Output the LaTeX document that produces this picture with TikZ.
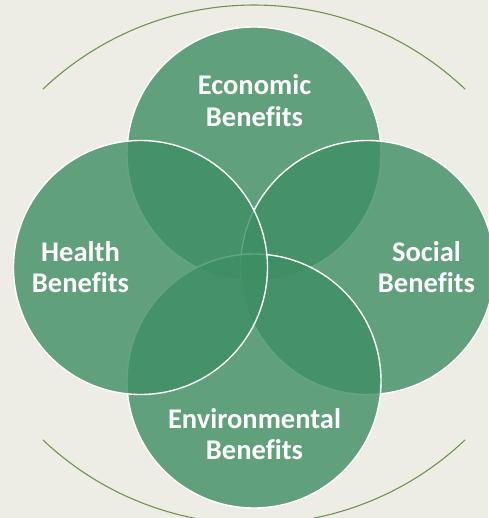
\documentclass[tikz,border=0pt]{standalone}
\usepackage{fontspec}
\setmainfont{Carlito}[Ligatures=NoCommon]

\definecolor{bgbeige}{RGB}{237,236,229}
\definecolor{petal}{RGB}{62,142,100}
\definecolor{arcgreen}{RGB}{112,148,78}

\tikzset{
  petal/.style={draw=white, line width=1.4pt, fill=petal, fill opacity=0.8},
  benefit/.style={anchor=center, inner sep=0pt, align=center, text=white,
    font=\fontsize{28.5}{31.5}\selectfont\bfseries},
  rim/.style={draw=arcgreen, line width=1.1pt}
}

\begin{document}
\begin{tikzpicture}[x=1pt, y=-1pt, line cap=round, line join=round]

  %% ════ 底色 ════
  \fill[bgbeige] (0,0) rectangle (488,518);

  %% ════ 圆心 ════
  \coordinate (econ)   at (254.0,154.0);
  \coordinate (health) at (140.5,267.5);
  \coordinate (social) at (367.5,267.5);
  \coordinate (envir)  at (254.0,381.0);

  %% ════ 外侧两段弧（上下对称）════
  \draw[rim] (254.0,312.0) ++(-133.4:307) arc[start angle=-133.4, end angle=-46.6, radius=307];
  \draw[rim] (254.0,217.0) ++(133.4:307) arc[start angle=133.4, end angle=46.6, radius=307];

  %% ════ 四个圆：先上、再右、下，最后左 ════
  \path[petal] (econ)   circle (127);
  \path[petal] (social) circle (127);
  \path[petal] (envir)  circle (127);
  \path[petal] (health) circle (127);

  %% ════ 标签 ════
  \node[benefit] (econ-label)   at (254.5,100.5) {Economic\\Benefits};
  \node[benefit] (health-label) at (80.5,267.0)  {Health\\Benefits};
  \node[benefit] (social-label) at (426.5,267.0) {Social\\Benefits};
  \node[benefit] (envir-label)  at (254.5,434.0) {Environmental\\Benefits};

  \pgfresetboundingbox
  \path[use as bounding box] (0,0) rectangle (488,518);
\end{tikzpicture}
\end{document}
